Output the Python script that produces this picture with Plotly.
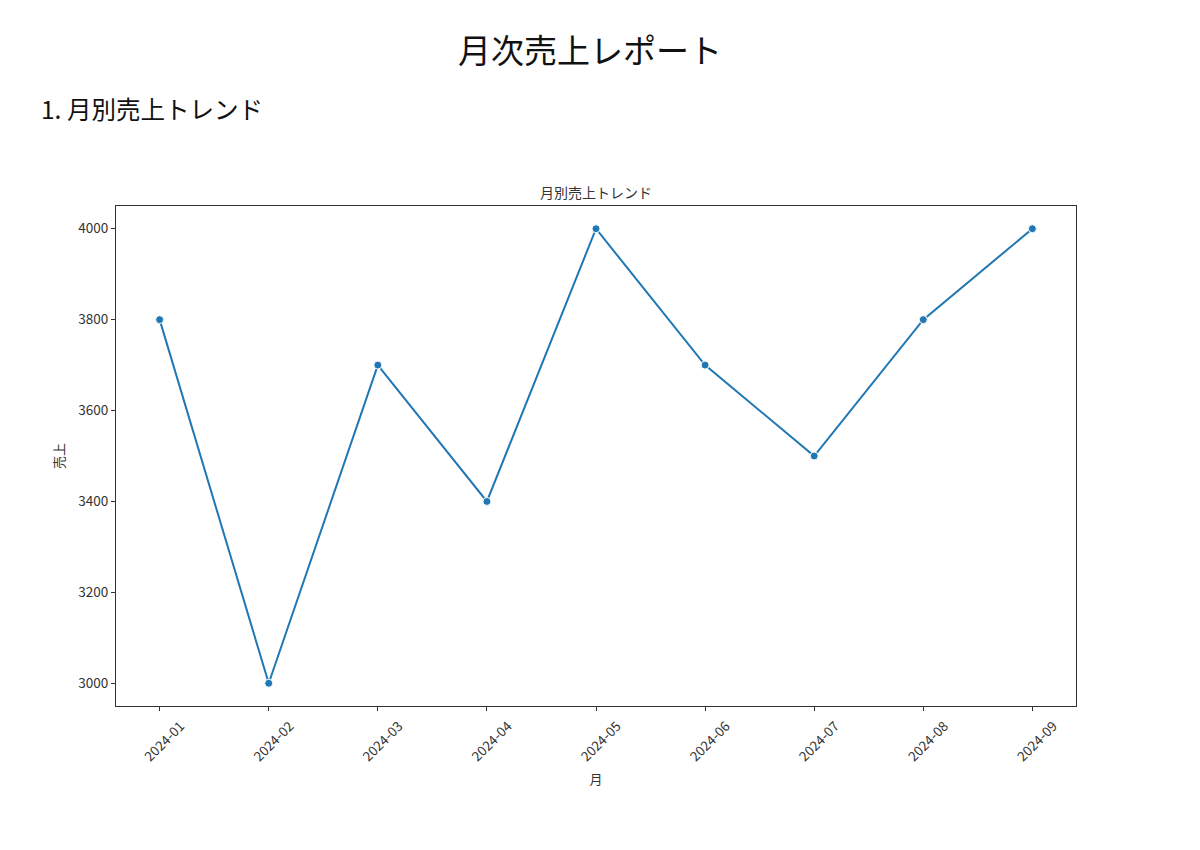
import plotly.graph_objects as go

months = ["2024-01", "2024-02", "2024-03", "2024-04", "2024-05",
          "2024-06", "2024-07", "2024-08", "2024-09"]
sales = [3800, 3000, 3700, 3400, 4000, 3700, 3500, 3800, 4000]
y_ticks = [3000, 3200, 3400, 3600, 3800, 4000]

FONT = "Noto Sans CJK JP"
LINE = "#1f77b4"
AX = "#333333"

fig = go.Figure()
fig.add_trace(go.Scatter(
    x=months, y=sales, mode="lines+markers",
    line=dict(color=LINE, width=2),
    marker=dict(color=LINE, size=8, line=dict(color="white", width=1)),
    showlegend=False,
))

fig.update_layout(
    width=1200, height=850,
    margin=dict(l=116, r=124, t=206, b=144),
    paper_bgcolor="white", plot_bgcolor="white",
    font=dict(family=FONT, color=AX, size=13.5),
)
fig.update_xaxes(
    type="category", range=[-0.4, 8.4],
    showline=True, linecolor=AX, linewidth=1, mirror=True,
    ticks="outside", ticklen=4, tickcolor=AX, tickangle=-45,
    ticklabelshift=21, ticklabelstandoff=2,
    tickfont=dict(size=13.5, family=FONT, color=AX),
    showgrid=False, zeroline=False,
    title=dict(text="月", font=dict(size=13, family=FONT, color=AX), standoff=10),
)
fig.update_yaxes(
    range=[2950, 4050], tickvals=y_ticks,
    showline=True, linecolor=AX, linewidth=1, mirror=True,
    ticks="outside", ticklen=4, tickcolor=AX,
    tickfont=dict(size=13.5, family=FONT, color=AX),
    showgrid=False, zeroline=False,
    title=dict(text="売上", font=dict(size=13, family=FONT, color=AX), standoff=10),
)

fig.add_annotation(text="月次売上レポート", xref="paper", yref="paper",
                   x=0.494, y=1, yshift=157, showarrow=False,
                   font=dict(size=33, family=FONT, color="#111111"),
                   xanchor="center", yanchor="middle")
fig.add_annotation(text="1. 月別売上トレンド", xref="paper", yref="paper",
                   x=-0.080, y=1, yshift=98, showarrow=False,
                   font=dict(size=24.5, family=FONT, color="#111111"),
                   xanchor="left", yanchor="middle")
fig.add_annotation(text="月別売上トレンド", xref="paper", yref="paper",
                   x=0.5, y=1, yshift=14, showarrow=False,
                   font=dict(size=14, family=FONT, color=AX),
                   xanchor="center", yanchor="middle")

fig.write_html("out.html")
